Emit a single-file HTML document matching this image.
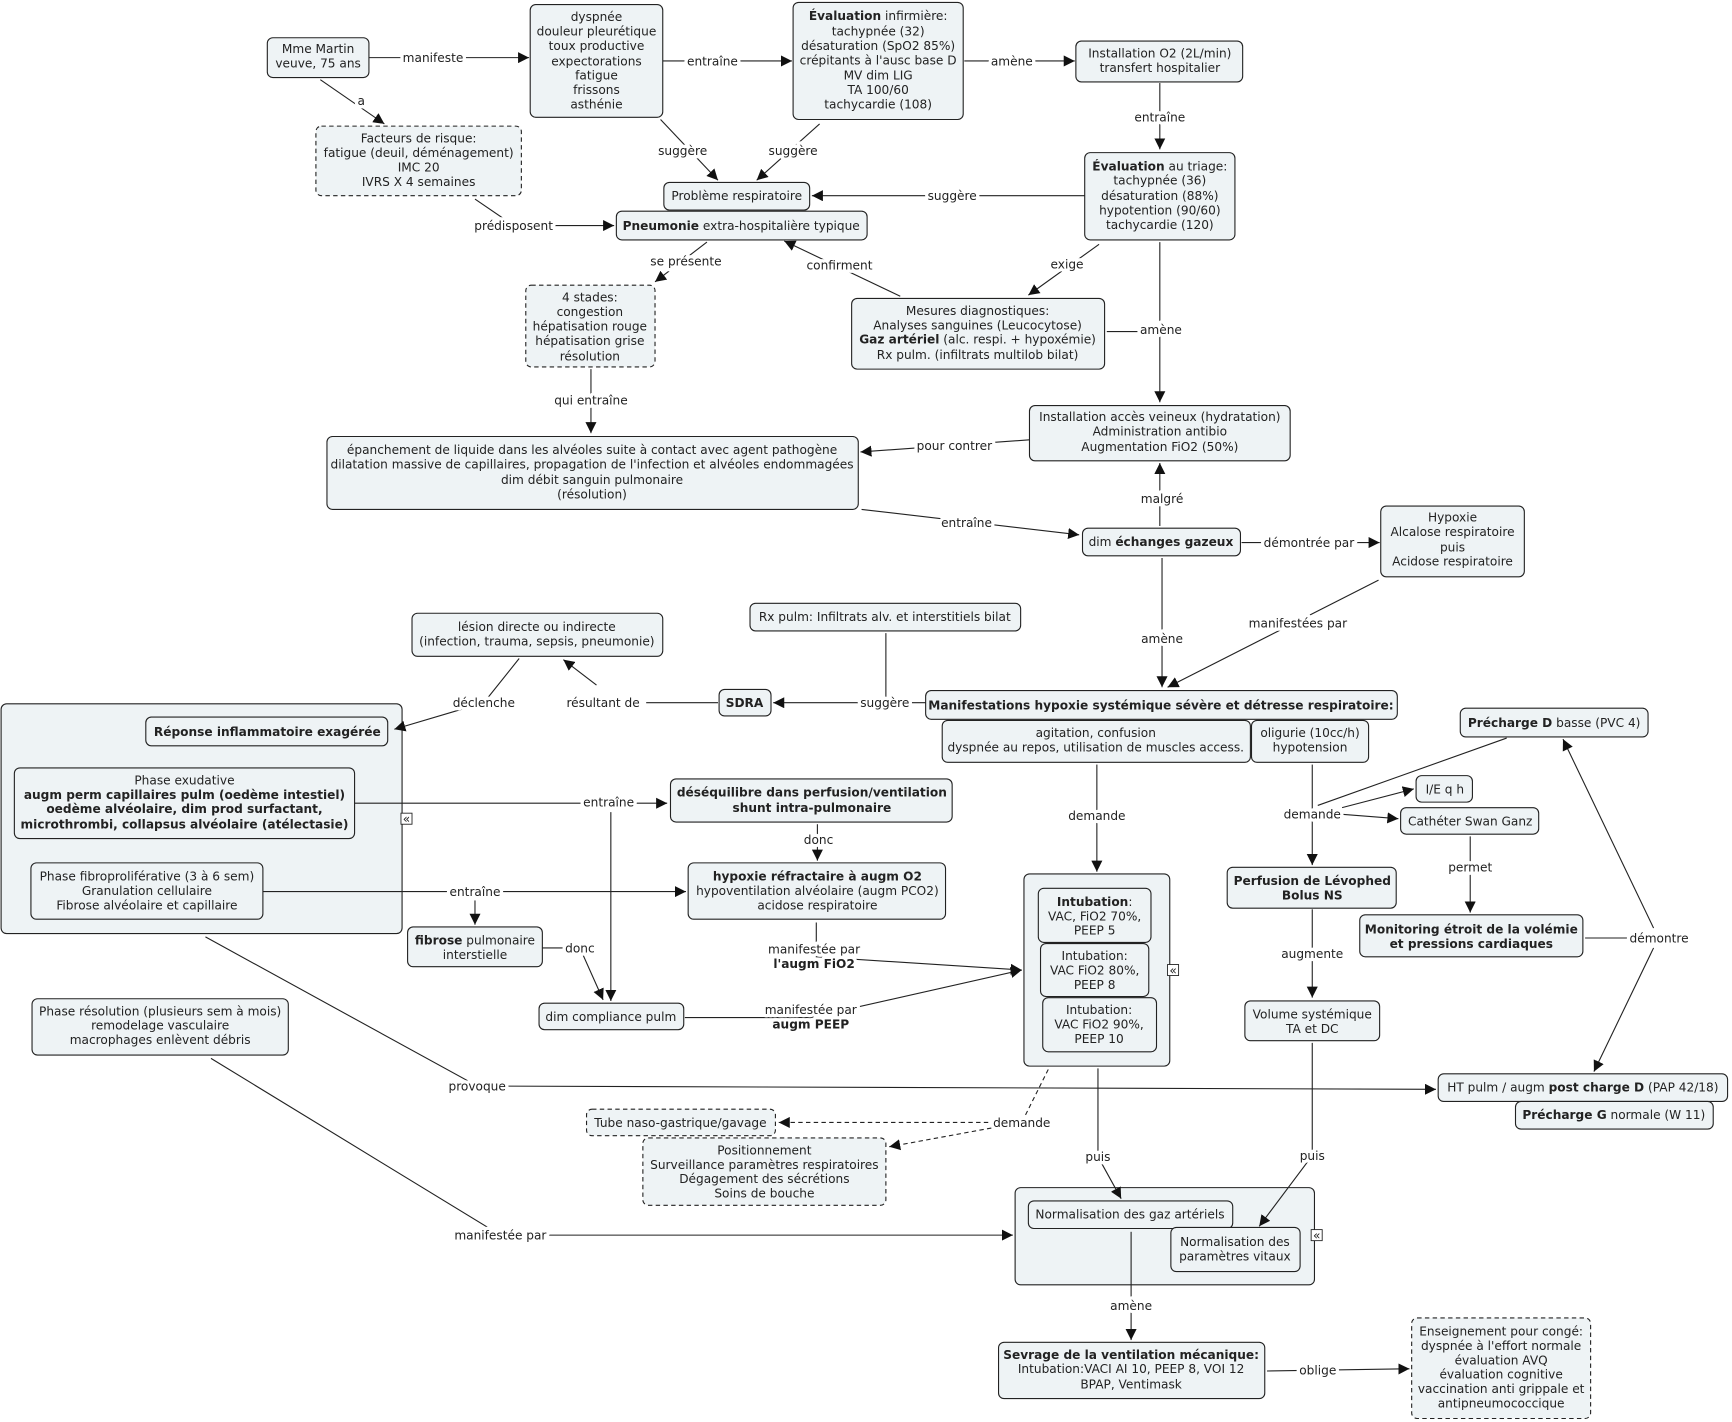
<!DOCTYPE html>
<html><head><meta charset="utf-8"><style>
html,body{margin:0;padding:0;background:#fff;}
svg{display:block;}
text{font-family:"DejaVu Sans","Liberation Sans",sans-serif;font-size:11px;fill:#222;}
.b{font-weight:bold;}
.box{fill:#eef3f5;stroke:#222;stroke-width:1;}
.dbox{fill:#eef3f5;stroke:#222;stroke-width:1;stroke-dasharray:4 3;}
.ln{stroke:#222;stroke-width:1;fill:none;}
.dl{stroke:#222;stroke-width:1;fill:none;stroke-dasharray:4 3;}
.lbl{paint-order:stroke;stroke:#fff;stroke-width:6px;stroke-linejoin:round;}
</style></head><body>
<svg width="1732" height="1422" viewBox="0 0 1568 1287" xmlns="http://www.w3.org/2000/svg">
<defs><marker id="a" viewBox="0 0 10 10" refX="10" refY="5" markerWidth="10" markerHeight="10" markerUnits="userSpaceOnUse" orient="auto"><path d="M0,0 L10,5 L0,10 z" fill="#111"/></marker></defs>

<!-- groups -->
<rect class="box" x="1" y="637" width="363" height="208" rx="5"/>
<rect class="box" x="927" y="791" width="132" height="174" rx="5"/>
<rect class="box" x="919" y="1075" width="271" height="88" rx="5"/>
<g fill="#fff" stroke="#222" stroke-width="0.8">
<rect x="363" y="736" width="10" height="10"/><rect x="1057" y="873" width="10" height="10"/><rect x="1187" y="1113" width="10" height="10"/>
</g>
<g text-anchor="middle" style="font-size:9px"><text x="368" y="745">«</text><text x="1062" y="882">«</text><text x="1192" y="1122">«</text></g>

<!-- connectors -->
<g class="ln">
<path d="M334,52 L479,52" marker-end="url(#a)"/>
<path d="M290,72 L348,112" marker-end="url(#a)"/>
<path d="M600,55 L717,55" marker-end="url(#a)"/>
<path d="M873,55 L973,55" marker-end="url(#a)"/>
<path d="M1050,75 L1050,135" marker-end="url(#a)"/>
<path d="M598,108 L650,163" marker-end="url(#a)"/>
<path d="M742,112 L685,163" marker-end="url(#a)"/>
<path d="M982,177 L735,177" marker-end="url(#a)"/>
<path d="M430,180 L465,204 L556,204" marker-end="url(#a)"/>
<path d="M640,219 L593,255" marker-end="url(#a)"/>
<path d="M815,268 L710,218" marker-end="url(#a)"/>
<path d="M995,221 L931,267" marker-end="url(#a)"/>
<path d="M1050,219 L1050,364" marker-end="url(#a)"/>
<path d="M1002,300 L1040,300"/>
<path d="M535,334 L535,392" marker-end="url(#a)"/>
<path d="M932,398 L779,409" marker-end="url(#a)"/>
<path d="M780,461 L977,484" marker-end="url(#a)"/>
<path d="M1050,476 L1050,419" marker-end="url(#a)"/>
<path d="M1124,491 L1249,491" marker-end="url(#a)"/>
<path d="M1052,505 L1052,622" marker-end="url(#a)"/>
<path d="M1248,525 L1057,622" marker-end="url(#a)"/>
<path d="M802,573 L802,632"/>
<path d="M838,636 L700,636" marker-end="url(#a)"/>
<path d="M650,636 L585,636"/>
<path d="M540,620 L510,597" marker-end="url(#a)"/>
<path d="M470,596 L438,636 L357,660" marker-end="url(#a)"/>
<path d="M321,727 L604,727" marker-end="url(#a)"/>
<path d="M553,735 L553,906" marker-end="url(#a)"/>
<path d="M740,746 L740,779" marker-end="url(#a)"/>
<path d="M238,807 L621,807" marker-end="url(#a)"/>
<path d="M430,815 L430,837" marker-end="url(#a)"/>
<path d="M491,858 L525,858 L546,905" marker-end="url(#a)"/>
<path d="M739,835 L739,866 L925,878" marker-end="url(#a)"/>
<path d="M620,921 L734,921 L925,878" marker-end="url(#a)"/>
<path d="M993,692 L993,789" marker-end="url(#a)"/>
<path d="M1188,692 L1188,783" marker-end="url(#a)"/>
<path d="M1364,668 L1193,729"/>
<path d="M1215,731 L1280,714" marker-end="url(#a)"/>
<path d="M1215,737 L1266,741" marker-end="url(#a)"/>
<path d="M1331,757 L1331,826" marker-end="url(#a)"/>
<path d="M1435,849 L1500,849"/>
<path d="M1497,840 L1415,669" marker-end="url(#a)"/>
<path d="M1497,858 L1443,970" marker-end="url(#a)"/>
<path d="M1188,823 L1188,903" marker-end="url(#a)"/>
<path d="M186,848 L432,983 L1300,986" marker-end="url(#a)"/>
<path d="M994,967 L994,1047 L1015,1085" marker-end="url(#a)"/>
<path d="M1188,944 L1188,1046 L1140,1110" marker-end="url(#a)"/>
<path d="M191,958 L453,1118 L917,1118" marker-end="url(#a)"/>
<path d="M1024,1115 L1024,1213" marker-end="url(#a)"/>
<path d="M1147,1241 L1276,1239" marker-end="url(#a)"/>
</g>
<g class="dl">
<path d="M949,968 L925,1016 L705,1016" marker-end="url(#a)"/>
<path d="M925,1016 L805,1038" marker-end="url(#a)"/>
</g>

<!-- labels -->
<g text-anchor="middle">
<text class="lbl" x="392" y="56">manifeste</text>
<text class="lbl" x="327" y="95">a</text>
<text class="lbl" x="645" y="59">entraîne</text>
<text class="lbl" x="916" y="59">amène</text>
<text class="lbl" x="1050" y="110">entraîne</text>
<text class="lbl" x="618" y="140">suggère</text>
<text class="lbl" x="718" y="140">suggère</text>
<text class="lbl" x="862" y="181">suggère</text>
<text class="lbl" x="465" y="208">prédisposent</text>
<text class="lbl" x="621" y="240">se présente</text>
<text class="lbl" x="760" y="244">confirment</text>
<text class="lbl" x="966" y="243">exige</text>
<text class="lbl" x="1051" y="302">amène</text>
<text class="lbl" x="535" y="366">qui entraîne</text>
<text class="lbl" x="864" y="407">pour contrer</text>
<text class="lbl" x="875" y="477">entraîne</text>
<text class="lbl" x="1052" y="455">malgré</text>
<text class="lbl" x="1185" y="495">démontrée par</text>
<text class="lbl" x="1052" y="582">amène</text>
<text class="lbl" x="1175" y="568">manifestées par</text>
<text class="lbl" x="801" y="640">suggère</text>
<text class="lbl" x="546" y="640">résultant de</text>
<text class="lbl" x="438" y="640">déclenche</text>
<text class="lbl" x="551" y="730">entraîne</text>
<text class="lbl" x="741" y="764">donc</text>
<text class="lbl" x="430" y="811">entraîne</text>
<text class="lbl" x="525" y="862">donc</text>
<text class="lbl" x="737" y="863">manifestée par</text>
<text class="lbl b" x="737" y="876">l'augm FiO2</text>
<text class="lbl" x="734" y="918">manifestée par</text>
<text class="lbl b" x="734" y="931">augm PEEP</text>
<text class="lbl" x="993" y="742">demande</text>
<text class="lbl" x="1188" y="741">demande</text>
<text class="lbl" x="1331" y="789">permet</text>
<text class="lbl" x="1502" y="853">démontre</text>
<text class="lbl" x="1188" y="867">augmente</text>
<text class="lbl" x="432" y="987">provoque</text>
<text class="lbl" x="925" y="1020">demande</text>
<text class="lbl" x="994" y="1051">puis</text>
<text class="lbl" x="1188" y="1050">puis</text>
<text class="lbl" x="453" y="1122">manifestée par</text>
<text class="lbl" x="1024" y="1186">amène</text>
<text class="lbl" x="1193" y="1244">oblige</text>
</g>

<!-- boxes -->
<g>
<rect class="box" x="242" y="34" width="92" height="36" rx="5"/>
<rect class="box" x="480" y="4" width="120" height="102" rx="5"/>
<rect class="box" x="718" y="2" width="154" height="106" rx="5"/>
<rect class="box" x="974" y="37" width="151" height="37" rx="5"/>
<rect class="box" x="982" y="138" width="136" height="79" rx="5"/>
<rect class="dbox" x="286" y="114" width="186" height="63" rx="5"/>
<rect class="box" x="601" y="165" width="132" height="25" rx="5"/>
<rect class="box" x="558" y="191" width="227" height="26" rx="5"/>
<rect class="dbox" x="476" y="258" width="117" height="74" rx="5"/>
<rect class="box" x="771" y="270" width="229" height="64" rx="5"/>
<rect class="box" x="932" y="367" width="236" height="50" rx="5"/>
<rect class="box" x="296" y="395" width="481" height="66" rx="5"/>
<rect class="box" x="980" y="478" width="143" height="25" rx="5"/>
<rect class="box" x="1250" y="458" width="130" height="64" rx="5"/>
<rect class="box" x="373" y="555" width="227" height="39" rx="5"/>
<rect class="box" x="679" y="546" width="245" height="25" rx="5"/>
<rect class="box" x="651" y="624" width="47" height="24" rx="5"/>
<rect class="box" x="838" y="625" width="427" height="26" rx="5"/>
<rect class="box" x="853" y="652" width="279" height="38" rx="5"/>
<rect class="box" x="1133" y="652" width="106" height="38" rx="5"/>
<rect class="box" x="1322" y="641" width="170" height="26" rx="5"/>
<rect class="box" x="132" y="649" width="219" height="26" rx="5"/>
<rect class="box" x="13" y="695" width="308" height="64" rx="5"/>
<rect class="box" x="28" y="781" width="210" height="51" rx="5"/>
<rect class="box" x="607" y="705" width="255" height="39" rx="5"/>
<rect class="box" x="1282" y="702" width="51" height="24" rx="5"/>
<rect class="box" x="1268" y="731" width="125" height="24" rx="5"/>
<rect class="box" x="623" y="781" width="233" height="51" rx="5"/>
<rect class="box" x="1111" y="785" width="153" height="37" rx="5"/>
<rect class="box" x="1231" y="828" width="202" height="38" rx="5"/>
<rect class="box" x="369" y="839" width="122" height="36" rx="5"/>
<rect class="box" x="940" y="804" width="102" height="49" rx="5"/>
<rect class="box" x="942" y="854" width="98" height="48" rx="5"/>
<rect class="box" x="944" y="903" width="103" height="49" rx="5"/>
<rect class="box" x="488" y="908" width="131" height="24" rx="5"/>
<rect class="box" x="1127" y="906" width="122" height="36" rx="5"/>
<rect class="box" x="29" y="904" width="232" height="51" rx="5"/>
<rect class="box" x="1302" y="972" width="262" height="25" rx="5"/>
<rect class="box" x="1372" y="997" width="179" height="25" rx="5"/>
<rect class="dbox" x="531" y="1004" width="171" height="24" rx="5"/>
<rect class="dbox" x="582" y="1030" width="220" height="61" rx="5"/>
<rect class="box" x="931" y="1087" width="185" height="25" rx="5"/>
<rect class="box" x="1060" y="1111" width="117" height="40" rx="5"/>
<rect class="box" x="904" y="1215" width="241" height="51" rx="5"/>
<rect class="dbox" x="1278" y="1193" width="162" height="91" rx="5"/>
</g>

<!-- box texts -->
<g text-anchor="middle">
<text x="288" y="48">Mme Martin</text><text x="288" y="61">veuve, 75 ans</text>
<text x="540" y="19">dyspnée</text><text x="540" y="32">douleur pleurétique</text><text x="540" y="45">toux productive</text><text x="540" y="59">expectorations</text><text x="540" y="72">fatigue</text><text x="540" y="85">frissons</text><text x="540" y="98">asthénie</text>
<text x="795" y="18"><tspan class="b">Évaluation</tspan> infirmière:</text><text x="795" y="32">tachypnée (32)</text><text x="795" y="45">désaturation (SpO2 85%)</text><text x="795" y="58">crépitants à l'ausc base D</text><text x="795" y="72">MV dim LIG</text><text x="795" y="85">TA 100/60</text><text x="795" y="98">tachycardie (108)</text>
<text x="1050" y="52">Installation O2 (2L/min)</text><text x="1050" y="65">transfert hospitalier</text>
<text x="1050" y="154"><tspan class="b">Évaluation</tspan> au triage:</text><text x="1050" y="167">tachypnée (36)</text><text x="1050" y="181">désaturation (88%)</text><text x="1050" y="194">hypotention (90/60)</text><text x="1050" y="207">tachycardie (120)</text>
<text x="379" y="129">Facteurs de risque:</text><text x="379" y="142">fatigue (deuil, déménagement)</text><text x="379" y="155">IMC  20</text><text x="379" y="168">IVRS X 4 semaines</text>
<text x="667" y="181">Problème respiratoire</text>
<text x="671" y="208"><tspan class="b">Pneumonie</tspan> extra-hospitalière typique</text>
<text x="534" y="273">4 stades:</text><text x="534" y="286">congestion</text><text x="534" y="299">hépatisation rouge</text><text x="534" y="312">hépatisation grise</text><text x="534" y="326">résolution</text>
<text x="885" y="285">Mesures diagnostiques:</text><text x="885" y="298">Analyses sanguines (Leucocytose)</text><text x="885" y="311"><tspan class="b">Gaz artériel</tspan> (alc. respi. + hypoxémie)</text><text x="885" y="325">Rx pulm. (infiltrats multilob bilat)</text>
<text x="1050" y="381">Installation accès veineux (hydratation)</text><text x="1050" y="394">Administration antibio</text><text x="1050" y="408">Augmentation FiO2 (50%)</text>
<text x="536" y="411">épanchement de liquide dans les alvéoles suite à contact avec agent pathogène</text><text x="536" y="424">dilatation massive de capillaires, propagation de l'infection et alvéoles endommagées</text><text x="536" y="438">dim débit sanguin pulmonaire</text><text x="536" y="451">(résolution)</text>
<text x="1051" y="494">dim <tspan class="b">échanges gazeux</tspan></text>
<text x="1315" y="472">Hypoxie</text><text x="1315" y="485">Alcalose respiratoire</text><text x="1315" y="499">puis</text><text x="1315" y="512">Acidose respiratoire</text>
<text x="486" y="571">lésion directe ou indirecte</text><text x="486" y="584">(infection, trauma, sepsis, pneumonie)</text>
<text x="801" y="562">Rx pulm: Infiltrats alv. et interstitiels bilat</text>
<text class="b" x="674" y="640">SDRA</text>
<text class="b" x="1051" y="642">Manifestations hypoxie systémique sévère et détresse respiratoire:</text>
<text x="992" y="667">agitation, confusion</text><text x="992" y="680">dyspnée au repos, utilisation de muscles access.</text>
<text x="1186" y="667">oligurie (10cc/h)</text><text x="1186" y="680">hypotension</text>
<text x="1407" y="658"><tspan class="b">Précharge D</tspan> basse (PVC 4)</text>
<text class="b" x="242" y="666">Réponse inflammatoire exagérée</text>
<text x="167" y="710">Phase exudative</text><text class="b" x="167" y="723">augm perm capillaires pulm (oedème intestiel)</text><text class="b" x="167" y="736">oedème alvéolaire, dim prod surfactant,</text><text class="b" x="167" y="750">microthrombi, collapsus alvéolaire (atélectasie)</text>
<text x="133" y="797">Phase fibroproliférative (3 à 6 sem)</text><text x="133" y="810">Granulation cellulaire</text><text x="133" y="823">Fibrose alvéolaire et capillaire</text>
<text class="b" x="735" y="721">déséquilibre dans perfusion/ventilation</text><text class="b" x="735" y="735">shunt intra-pulmonaire</text>
<text x="1308" y="718">I/E q h</text>
<text x="1331" y="747">Cathéter Swan Ganz</text>
<text class="b" x="740" y="797">hypoxie réfractaire à augm O2</text><text x="740" y="810">hypoventilation alvéolaire (augm PCO2)</text><text x="740" y="823">acidose respiratoire</text>
<text class="b" x="1188" y="801">Perfusion de Lévophed</text><text class="b" x="1188" y="814">Bolus NS</text>
<text class="b" x="1332" y="845">Monitoring étroit de la volémie</text><text class="b" x="1332" y="858">et pressions cardiaques</text>
<text x="430" y="855"><tspan class="b">fibrose</tspan> pulmonaire</text><text x="430" y="868">interstielle</text>
<text x="991" y="820"><tspan class="b">Intubation</tspan>:</text><text x="991" y="833">VAC, FiO2 70%,</text><text x="991" y="846">PEEP 5</text>
<text x="991" y="869">Intubation:</text><text x="991" y="882">VAC FiO2 80%,</text><text x="991" y="895">PEEP 8</text>
<text x="995" y="918">Intubation:</text><text x="995" y="931">VAC FiO2 90%,</text><text x="995" y="944">PEEP 10</text>
<text x="553" y="924">dim compliance pulm</text>
<text x="1188" y="922">Volume systémique</text><text x="1188" y="935">TA et DC</text>
<text x="145" y="919">Phase résolution (plusieurs sem à mois)</text><text x="145" y="932">remodelage vasculaire</text><text x="145" y="945">macrophages enlèvent débris</text>
<text x="1433" y="988">HT pulm / augm <tspan class="b">post charge D</tspan> (PAP 42/18)</text>
<text x="1461" y="1013"><tspan class="b">Précharge G</tspan> normale (W 11)</text>
<text x="616" y="1020">Tube naso-gastrique/gavage</text>
<text x="692" y="1045">Positionnement</text><text x="692" y="1058">Surveillance paramètres respiratoires</text><text x="692" y="1071">Dégagement des sécrétions</text><text x="692" y="1084">Soins de bouche</text>
<text x="1023" y="1103">Normalisation des gaz artériels</text>
<text x="1118" y="1128">Normalisation des</text><text x="1118" y="1141">paramètres vitaux</text>
<text class="b" x="1024" y="1230">Sevrage de la ventilation mécanique:</text><text x="1024" y="1243">Intubation:VACI AI 10, PEEP 8, VOI 12</text><text x="1024" y="1257">BPAP, Ventimask</text>
<text x="1359" y="1209">Enseignement pour congé:</text><text x="1359" y="1222">dyspnée à l'effort normale</text><text x="1359" y="1235">évaluation AVQ</text><text x="1359" y="1248">évaluation cognitive</text><text x="1359" y="1261">vaccination anti grippale et</text><text x="1359" y="1274">antipneumococcique</text>
</g>
</svg>
</body></html>
